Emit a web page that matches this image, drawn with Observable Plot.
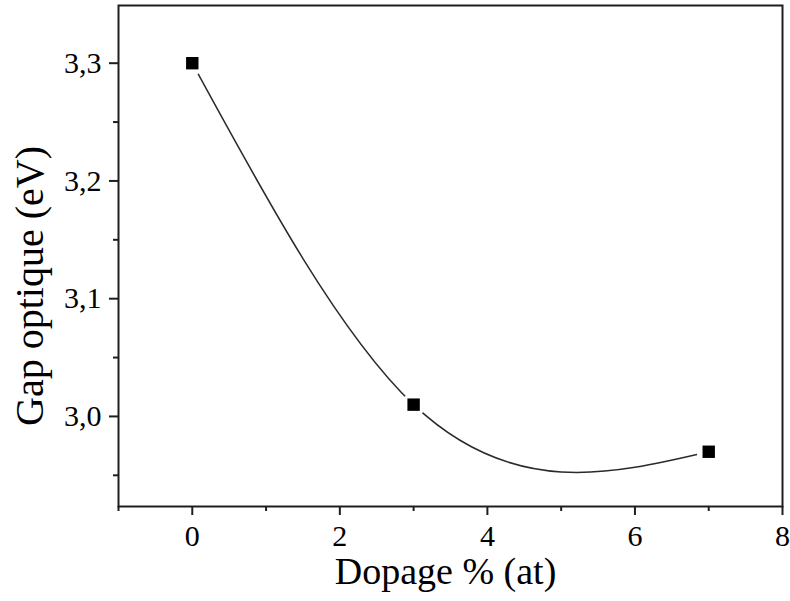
<!DOCTYPE html>
<html><head><meta charset="utf-8">
<script src="https://cdn.jsdelivr.net/npm/d3@7"></script>
<script src="https://cdn.jsdelivr.net/npm/@observablehq/plot@0.6"></script>
<style>body{margin:0;background:#fff}</style>
</head><body><div id="chart"></div>
<script>
const dopage = [0, 3, 7];
const gap = [3.30, 3.01, 2.97];
const xMajorTicks = [0, 2, 4, 6, 8];
const xMinorTicks = [-1, 1, 3, 5, 7];
const yMajorTicks = [3.0, 3.1, 3.2, 3.3];
const yMinorTicks = [2.95, 3.05, 3.15, 3.25];
const xLabel = "Dopage % (at)";
const yLabel = "Gap optique (eV)";

const data = dopage.map((d, i) => ({x: d, y: gap[i]}));
const fmt = d => d3.format(".1f")(d).replace(".", ",");
const font = "'Liberation Serif', 'Times New Roman', serif";
const ink = "#1e1e1e";

// Natural cubic spline y(x) (Origin-style "Spline" connector), drawn as Bézier segments
function curveNaturalX(context) {
  let xs, ys;
  return {
    areaStart() {}, areaEnd() {},
    lineStart() { xs = []; ys = []; },
    point(x, y) { xs.push(+x); ys.push(+y); },
    lineEnd() {
      const n = xs.length;
      if (!n) return;
      context.moveTo(xs[0], ys[0]);
      if (n === 1) return;
      const h = [], d = [];
      for (let i = 0; i < n - 1; i++) { h.push(xs[i + 1] - xs[i]); d.push((ys[i + 1] - ys[i]) / h[i]); }
      const M = new Array(n).fill(0);
      if (n > 2) {
        const m = n - 2, a = [], b = [], c = [], r = [];
        for (let i = 1; i <= m; i++) {
          a.push(h[i - 1]); b.push(2 * (h[i - 1] + h[i])); c.push(h[i]); r.push(6 * (d[i] - d[i - 1]));
        }
        for (let i = 1; i < m; i++) { const w = a[i] / b[i - 1]; b[i] -= w * c[i - 1]; r[i] -= w * r[i - 1]; }
        const sol = new Array(m);
        sol[m - 1] = r[m - 1] / b[m - 1];
        for (let i = m - 2; i >= 0; i--) sol[i] = (r[i] - c[i] * sol[i + 1]) / b[i];
        for (let i = 0; i < m; i++) M[i + 1] = sol[i];
      }
      for (let i = 0; i < n - 1; i++) {
        const s0 = d[i] - h[i] * (2 * M[i] + M[i + 1]) / 6;
        const s1 = d[i] + h[i] * (M[i] + 2 * M[i + 1]) / 6;
        context.bezierCurveTo(xs[i] + h[i] / 3, ys[i] + s0 * h[i] / 3,
                              xs[i + 1] - h[i] / 3, ys[i + 1] - s1 * h[i] / 3,
                              xs[i + 1], ys[i + 1]);
      }
    }
  };
}

const plot = Plot.plot({
  width: 790, height: 601,
  marginLeft: 118, marginRight: 8, marginTop: 5, marginBottom: 95,
  style: {fontFamily: font, fontSize: "30px", background: "white", color: "black"},
  x: {domain: [-1, 8]},
  y: {domain: [2.9235, 3.349]},
  marks: [
    Plot.line(data, {x: "x", y: "y", curve: curveNaturalX, stroke: "#2a2a2a", strokeWidth: 1.5}),
    Plot.dot(data, {x: "x", y: "y", r: 12, fill: "white", stroke: "none"}),
    Plot.dot(data, {x: "x", y: "y", symbol: "square", r: 7, fill: "black", stroke: "none"}),
    Plot.frame({stroke: ink, strokeWidth: 2}),
    Plot.axisX(xMajorTicks, {tickSize: 9, tickPadding: 9, fontSize: 30, stroke: ink, strokeWidth: 2, label: null, fill: "black"}),
    Plot.axisX(xMinorTicks, {tickSize: 5, tickFormat: () => "", stroke: ink, strokeWidth: 2, label: null}),
    Plot.axisY(yMajorTicks, {tickSize: 9, tickPadding: 8, fontSize: 30, tickFormat: fmt, stroke: ink, strokeWidth: 2, label: null, fill: "black"}),
    Plot.axisY(yMinorTicks, {tickSize: 5, tickFormat: () => "", stroke: ink, strokeWidth: 2, label: null}),
    Plot.text([xLabel], {text: d => d, frameAnchor: "bottom", dx: -5, dy: 65, fontSize: 38, lineAnchor: "middle", textAnchor: "middle", fill: "black"}),
    Plot.text([yLabel], {text: d => d, frameAnchor: "left", rotate: -90, dx: -88, dy: 30, fontSize: 40, lineAnchor: "middle", textAnchor: "middle", fill: "black"})
  ]
});
document.getElementById("chart").appendChild(plot);
</script>
</body></html>
